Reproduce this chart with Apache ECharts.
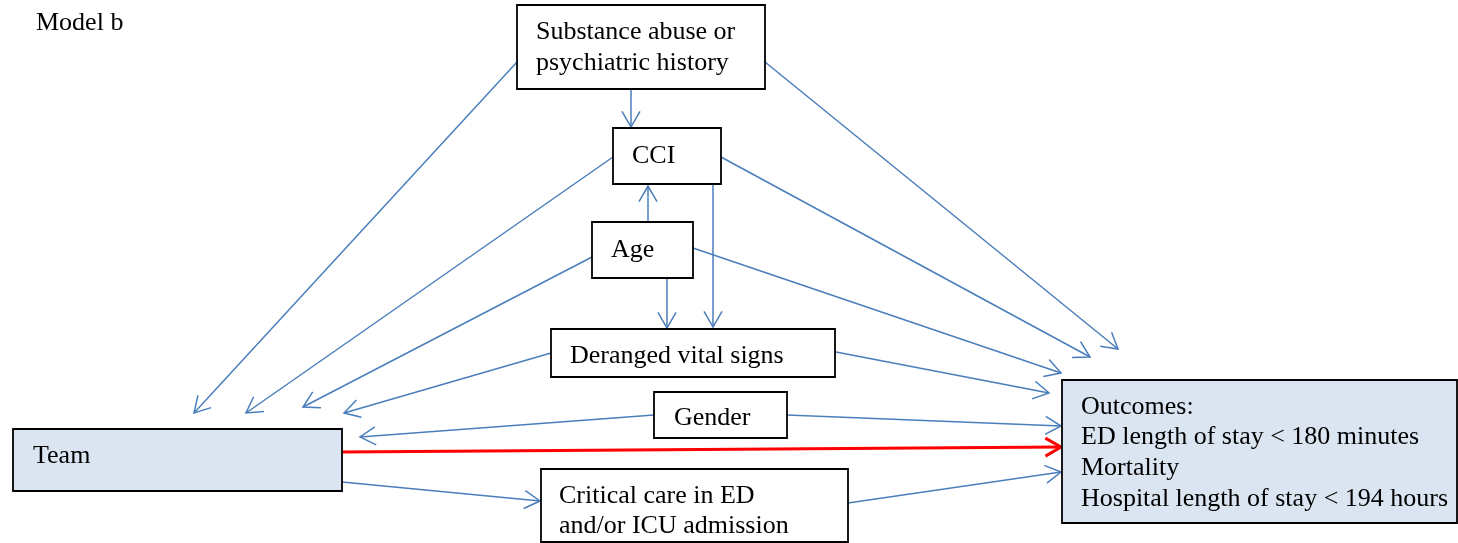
<!DOCTYPE html>
<html>
<head>
<meta charset="utf-8">
<title>Model b</title>
<script src="https://cdn.jsdelivr.net/npm/echarts@6/dist/echarts.min.js"></script>
<style>
  html, body { margin: 0; padding: 0; background: #fff; }
  #dag { width: 1458px; height: 543px; }
</style>
</head>
<body>
<div id="dag"></div>
<script>
// --- diagram content ---
var nodeIds = ['sub', 'cci', 'age', 'vital', 'gender', 'team', 'care', 'outcome'];
var nodeLabels = [
  ['Substance abuse or', 'psychiatric history'],
  ['CCI'],
  ['Age'],
  ['Deranged vital signs'],
  ['Gender'],
  ['Team'],
  ['Critical care in ED', 'and/or ICU admission'],
  ['Outcomes:', 'ED length of stay < 180 minutes', 'Mortality', 'Hospital length of stay < 194 hours']
];
// exposure and outcome boxes are shaded
var shadedNodes = ['team', 'outcome'];

// directed edges, from -> to
var edgeFrom = ['sub', 'sub', 'sub', 'cci', 'cci', 'cci', 'age', 'age', 'age', 'age',
                'vital', 'vital', 'gender', 'gender', 'team', 'care', 'team'];
var edgeTo   = ['team', 'cci', 'outcome', 'team', 'outcome', 'vital', 'cci', 'team', 'outcome', 'vital',
                'team', 'outcome', 'team', 'outcome', 'care', 'outcome', 'outcome'];
// the effect of interest (drawn in red)
var mainEdge = ['team', 'outcome'];

// --- layout, in pixels of the original figure ---
// box: [left, top, right, bottom]
var boxLayout = {
  sub:     [517, 5, 765, 89],
  cci:     [613, 128, 721, 184],
  age:     [592, 222, 693, 278],
  vital:   [551, 329, 835, 377],
  gender:  [654, 392, 787, 438],
  team:    [13, 429, 342, 491],
  care:    [541, 469, 848, 542],
  outcome: [1062, 380, 1457, 523]
};
// text: [left, centre of first line]
var textLayout = {
  sub: [536, 32.5], cci: [632, 156], age: [611, 250.5], vital: [570, 356],
  gender: [674, 418], team: [33, 456], care: [559, 496], outcome: [1081, 407]
};
var lineStep = 30.6;
// edge: [x1, y1, x2, y2] (start on source box, arrow tip near target)
var edgeLayout = [
  [517, 62, 194, 413],
  [631, 90, 631, 127],
  [765, 62, 1118, 349],
  [613, 157, 246, 413],
  [721, 157, 1090, 357],
  [713, 184, 713, 327],
  [648, 222, 648, 186],
  [592, 257, 303, 407],
  [693, 248, 1061, 373],
  [667, 278, 667, 328],
  [551, 353, 344, 413],
  [836, 352, 1049, 393],
  [654, 415, 360, 437],
  [787, 415, 1061, 426],
  [342, 482, 540, 501],
  [848, 503, 1061, 472],
  [342, 452, 1061, 447]
];

var FONT = '"Liberation Serif", "Times New Roman", serif';
var BLUE = '#4a7ebb';
var RED = '#ff0000';

var edgeData = edgeFrom.map(function (f, i) {
  var isMain = (f === mainEdge[0] && edgeTo[i] === mainEdge[1]) ? 1 : 0;
  return edgeLayout[i].concat([isMain]);
});
var boxData = nodeIds.map(function (id) {
  return boxLayout[id].concat([shadedNodes.indexOf(id) >= 0 ? 1 : 0]);
});

function renderEdge(params, api) {
  var p1 = api.coord([api.value(0), api.value(1)]);
  var p2 = api.coord([api.value(2), api.value(3)]);
  var main = api.value(4) === 1;
  var color = main ? RED : BLUE;
  var width = main ? 3 : 1.5;
  var len = 18;
  var ang = 30 * Math.PI / 180;
  var dx = p1[0] - p2[0], dy = p1[1] - p2[1];
  var d = Math.sqrt(dx * dx + dy * dy);
  dx /= d; dy /= d;
  function wing(a) {
    return [p2[0] + len * (dx * Math.cos(a) - dy * Math.sin(a)),
            p2[1] + len * (dx * Math.sin(a) + dy * Math.cos(a))];
  }
  return {
    type: 'group',
    children: [
      { type: 'line', shape: { x1: p1[0], y1: p1[1], x2: p2[0], y2: p2[1] },
        style: { stroke: color, lineWidth: width } },
      { type: 'polyline', shape: { points: [wing(ang), p2, wing(-ang)] },
        style: { stroke: color, lineWidth: width, fill: null } }
    ]
  };
}

function renderBox(params, api) {
  var id = nodeIds[params.dataIndex];
  var a = api.coord([api.value(0), api.value(1)]);
  var b = api.coord([api.value(2), api.value(3)]);
  var shaded = api.value(4) === 1;
  var t = textLayout[id];
  var tp = api.coord([t[0], t[1]]);
  var children = [{
    type: 'rect',
    shape: { x: a[0], y: a[1], width: b[0] - a[0], height: b[1] - a[1] },
    style: { fill: shaded ? '#dbe5f1' : '#ffffff', stroke: '#000', lineWidth: 1.8 }
  }];
  nodeLabels[params.dataIndex].forEach(function (line, k) {
    children.push({
      type: 'text',
      style: {
        text: line, x: tp[0], y: tp[1] + k * lineStep,
        fill: '#000', font: '26px ' + FONT,
        align: 'left', verticalAlign: 'middle'
      }
    });
  });
  return { type: 'group', children: children };
}

var chart = echarts.init(document.getElementById('dag'));
chart.setOption({
  animation: false,
  title: {
    text: 'Model b',
    left: 36,
    top: 10,
    padding: 0,
    textStyle: { fontFamily: FONT, fontSize: 26, fontWeight: 'normal', color: '#000' }
  },
  grid: { left: 0, right: 0, top: 0, bottom: 0 },
  xAxis: { type: 'value', min: 0, max: 1458, show: false },
  yAxis: { type: 'value', min: 0, max: 543, inverse: true, show: false },
  series: [
    {
      type: 'custom',
      name: 'edges',
      coordinateSystem: 'cartesian2d',
      silent: true,
      renderItem: renderEdge,
      data: edgeData,
      z: 1
    },
    {
      type: 'custom',
      name: 'nodes',
      coordinateSystem: 'cartesian2d',
      silent: true,
      renderItem: renderBox,
      data: boxData,
      z: 2
    }
  ]
});
</script>
</body>
</html>
